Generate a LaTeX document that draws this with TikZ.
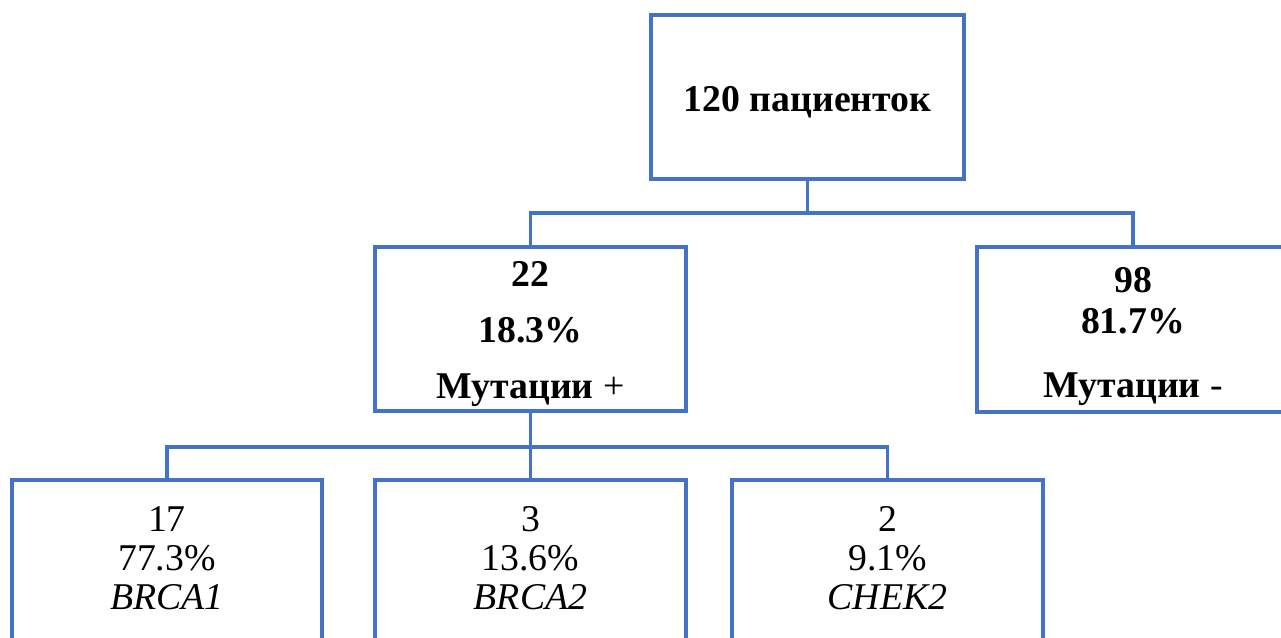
\documentclass[tikz,border=0pt]{standalone}
\usepackage{fontspec}
\setmainfont{Liberation Serif}
\usepackage{tikz}
\usetikzlibrary{calc,positioning}
\definecolor{boxblue}{HTML}{4472C4}

\begin{document}
\begin{tikzpicture}[x=0.02cm, y=-0.02cm]
	\tikzstyle{box} = [rectangle, draw = boxblue, line width = 1.9pt, align = center, inner sep = 0pt, font = \fontsize{21.5}{22}\selectfont]
	\tikzstyle{link} = [draw = boxblue, line width = 1.9pt]
	\useasboundingbox (0,0) rectangle (1281,638);
	\clip (0,0) rectangle (1281,638);
\node[box, minimum width = 313*0.02cm, minimum height = 164*0.02cm] (all) at (807.5, 97) {\rule{0pt}{20pt}\textbf{120 пациенток}};
\node[box, minimum width = 311*0.02cm, minimum height = 164*0.02cm] (pos) at (530.5, 329) {\rule{0pt}{20pt}\textbf{22}\\[10pt]\textbf{18.3\%}\\[10pt]\textbf{Мутации} +};
\node[box, minimum width = 312*0.02cm, minimum height = 165*0.02cm] (neg) at (1133, 329.5) {\rule{0pt}{22pt}\textbf{98}\\[1.5pt]\textbf{81.7\%}\\[14.5pt]\textbf{Мутации} -};
\node[box, minimum width = 310*0.02cm, minimum height = 180*0.02cm] (b1) at (167, 570) {17\\77.3\%\\\textit{BRCA1}\rule[-13.6pt]{0pt}{0pt}};
\node[box, minimum width = 311*0.02cm, minimum height = 180*0.02cm] (b2) at (530.5, 570) {3\\13.6\%\\\textit{BRCA2}\rule[-13.6pt]{0pt}{0pt}};
\node[box, minimum width = 311*0.02cm, minimum height = 180*0.02cm] (b3) at (887.5, 570) {2\\9.1\%\\\textit{CHEK2}\rule[-13.6pt]{0pt}{0pt}};
	\coordinate (j1) at (807.5, 213);
	\coordinate (j2) at (530.5, 447);
	\path[link] (all.south) -- (j1) -| (pos.north);
	\path[link] (j1) -| (neg.north);
	\path[link] (pos.south) -- (j2) -| (b1.north);
	\path[link] (j2) -- (b2.north);
	\path[link] (j2) -| (b3.north);
\end{tikzpicture}
\end{document}
